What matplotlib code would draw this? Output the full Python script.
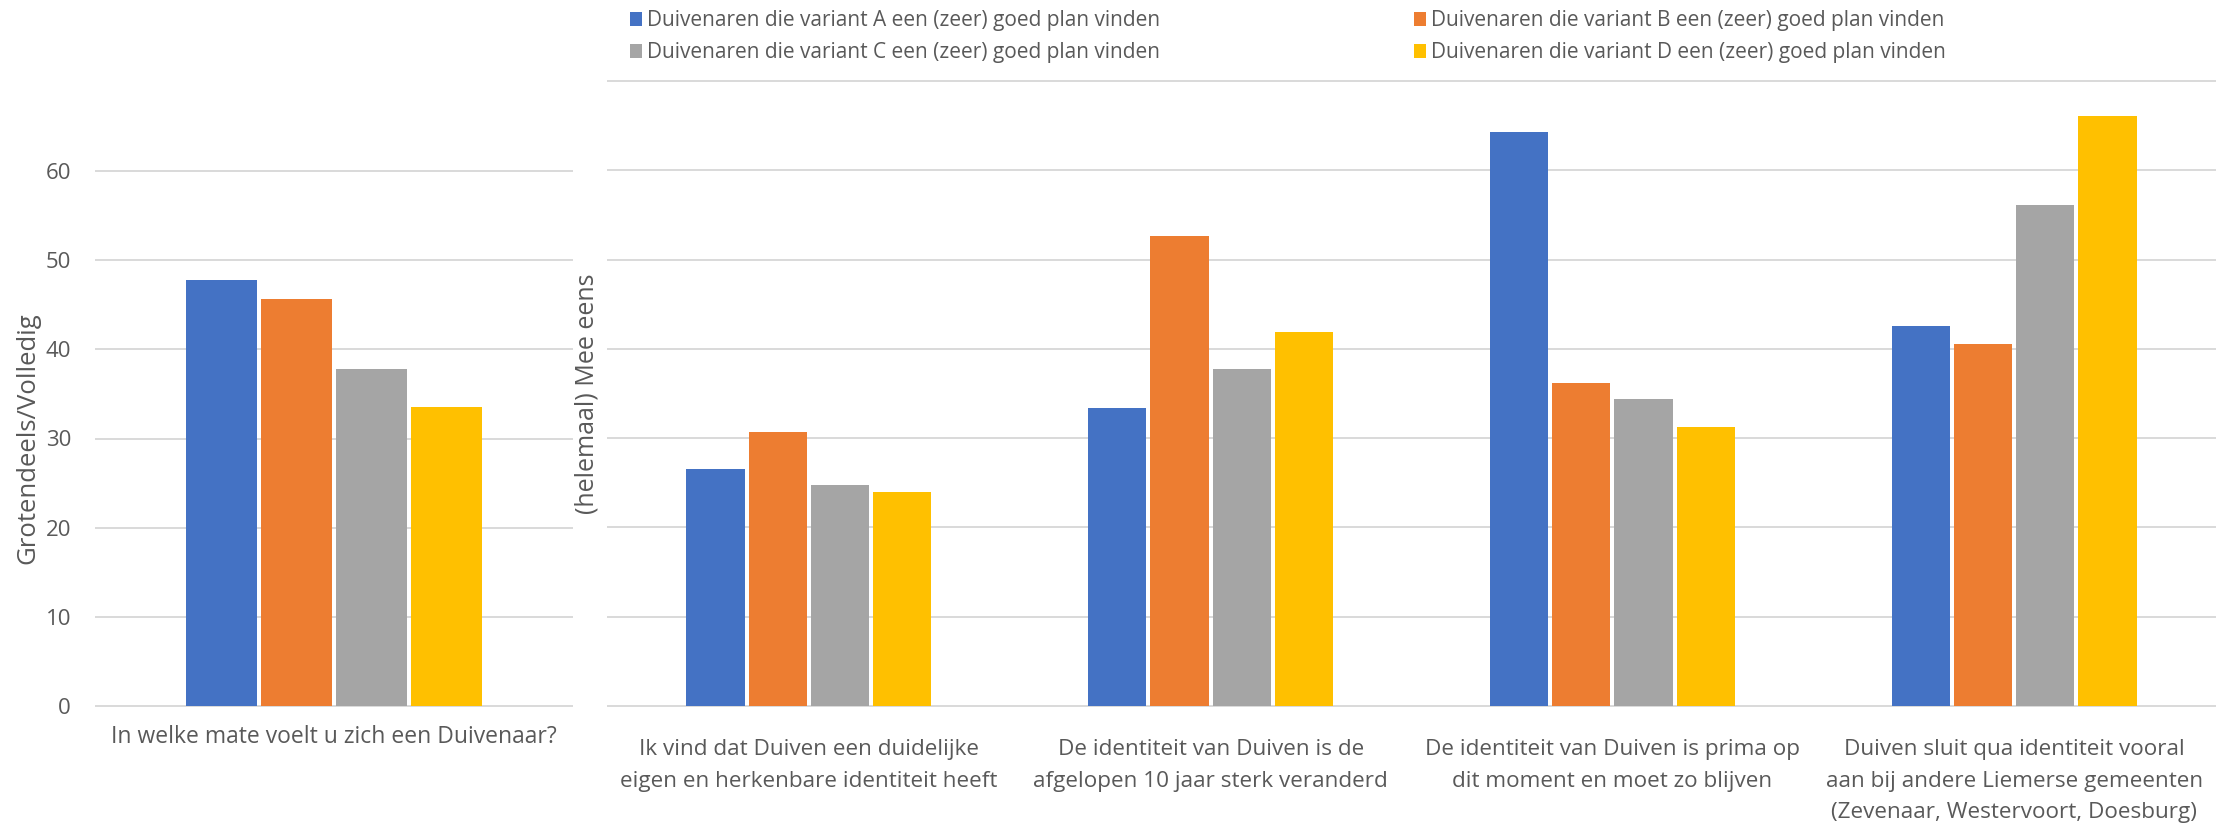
import matplotlib.pyplot as plt
import numpy as np

# data
series = ['Duivenaren die variant A een (zeer) goed plan vinden',
          'Duivenaren die variant B een (zeer) goed plan vinden',
          'Duivenaren die variant C een (zeer) goed plan vinden',
          'Duivenaren die variant D een (zeer) goed plan vinden']
colors = ['#4472C4', '#ED7D31', '#A5A5A5', '#FFC000']

left_cat = ['In welke mate voelt u zich een Duivenaar?']
left_vals = [47.8, 45.7, 37.8, 33.5]  # A, B, C, D

right_cats = ['Ik vind dat Duiven een duidelijke\neigen en herkenbare identiteit heeft',
              'De identiteit van Duiven is de\nafgelopen 10 jaar sterk veranderd',
              'De identiteit van Duiven is prima op\ndit moment en moet zo blijven',
              'Duiven sluit qua identiteit vooral\naan bij andere Liemerse gemeenten\n(Zevenaar, Westervoort, Doesburg)']
var_a = [26.6, 33.4, 64.3, 42.6]
var_b = [30.7, 52.6, 36.2, 40.5]
var_c = [24.7, 37.8, 34.4, 56.1]
var_d = [24.0, 41.9, 31.3, 66.1]

plt.rcParams['font.family'] = ['Open Sans', 'DejaVu Sans']
txt = '#595959'
gridc = '#D9D9D9'

W, H = 2219, 825
fig = plt.figure(figsize=(W / 100, H / 100), dpi=100)

ax1 = fig.add_axes([96 / W, 1 - 706 / H, (572 - 96) / W, (706 - 171) / H])
ax2 = fig.add_axes([608 / W, 1 - 706 / H, (2215 - 608) / W, (706 - 81) / H])

# left panel
x = np.arange(len(left_cat))
step, bw = 0.158, 0.149
for i, v in enumerate(left_vals):
    ax1.bar(x + (i - 1.5) * step, [v], width=bw, color=colors[i], zorder=3)
ax1.set_xlim(-0.5, 0.5)
ax1.set_ylim(0, 60)
ax1.set_yticks(range(0, 61, 10))
ax1.set_xticks(x)
ax1.set_xticklabels(left_cat, fontsize=16.5, color=txt)
ax1.set_ylabel('Grotendeels/Volledig', fontsize=18.5, color=txt, labelpad=4)
ax1.tick_params(axis='y', length=0, pad=18, labelsize=16, labelcolor=txt)
ax1.tick_params(axis='x', length=0, pad=14)

# right panel
x2 = np.arange(len(right_cats))
step2, bw2 = 0.155, 0.145
rvals = [var_a, var_b, var_c, var_d]
handles = []
for i, vals in enumerate(rvals):
    b = ax2.bar(x2 + (i - 1.5) * step2, vals, width=bw2, color=colors[i], zorder=3)
    handles.append(b)
ax2.set_xlim(-0.5, 3.5)
ax2.set_ylim(0, 70)
ax2.set_yticks(range(0, 71, 10))
ax2.set_yticklabels([])
ax2.set_xticks(x2)
ax2.set_xticklabels(right_cats, fontsize=16.2, color=txt, linespacing=1.64, va='top')
ax2.set_ylabel('(helemaal) Mee eens', fontsize=18, color=txt, labelpad=6)
ax2.tick_params(axis='y', length=0, pad=0)
ax2.tick_params(axis='x', length=0, pad=24)

for ax in (ax1, ax2):
    ax.grid(axis='y', color=gridc, lw=1.4, zorder=0)
    ax.set_axisbelow(True)
    for s in ax.spines.values():
        s.set_visible(False)
    for gl in ax.get_ygridlines():
        gl.set_clip_on(False)

# legend fills column-first, so order A, C, B, D gives rows A|B and C|D
order = [0, 2, 1, 3]
fig.legend([handles[k] for k in order], [series[k] for k in order],
           loc='upper left', bbox_to_anchor=(622 / W, 1 - 2 / H), borderaxespad=0,
           ncol=2, frameon=False, fontsize=15, labelcolor=txt,
           handlelength=0.55, handleheight=0.7, handletextpad=0.25,
           columnspacing=12.2, labelspacing=0.52)

fig.savefig('out.png', dpi=100, facecolor='white')
